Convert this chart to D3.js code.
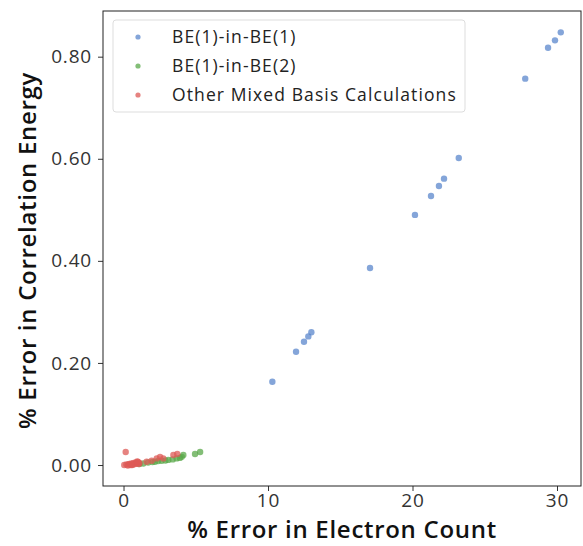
<!DOCTYPE html>
<html><head><meta charset="utf-8">
<script src="https://cdn.jsdelivr.net/npm/d3@7"></script>
<style>
body{margin:0;background:#fff;}
text{font-family:"Open Sans","Noto Sans",sans-serif;}
</style></head>
<body><svg id="c" width="583" height="546"></svg>
<script>
const seriesNames = ["BE(1)-in-BE(1)", "BE(1)-in-BE(2)", "Other Mixed Basis Calculations"];
const colors = ["#5b87cc", "#5aa84a", "#dd5a55"];
const blueX = [10.3, 11.94, 12.49, 12.79, 13.0, 17.06, 20.17, 21.28, 21.83, 22.18, 23.2, 27.8, 29.38, 29.86, 30.26];
const blueY = [0.163, 0.222, 0.2416, 0.252, 0.26, 0.386, 0.49, 0.527, 0.5466, 0.561, 0.6015, 0.757, 0.8176, 0.832, 0.8477];
const greenX = [1.1, 1.37, 1.7, 2.0, 2.18, 2.4, 2.64, 2.9, 3.1, 3.4, 3.68, 3.9, 4.03, 4.14, 4.95, 5.3];
const greenY = [0.002, 0.003, 0.005, 0.006, 0.0065, 0.008, 0.0085, 0.009, 0.01, 0.011, 0.013, 0.014, 0.016, 0.0196, 0.0215, 0.0255];
const redX = [0.05, 0.15, 0.2, 0.3, 0.4, 0.5, 0.55, 0.65, 0.7, 0.8, 0.85, 0.9, 1.0, 1.05, 1.1, 0.35, 0.6, 0.95, 1.6, 1.95, 2.3, 2.53, 2.75, 3.45, 3.72];
const redY = [0.0, 0.0255, 0.001, -0.001, 0.002, 0.0, 0.003, 0.001, 0.004, 0.002, 0.005, 0.003, 0.006, 0.002, 0.004, 0.001, 0.0, 0.007, 0.0065, 0.0085, 0.013, 0.016, 0.013, 0.0196, 0.0215];
const xTicks = [0, 10, 20, 30];
const yTicks = [0, 0.2, 0.4, 0.6, 0.8];

const svg = d3.select("#c");
const L = 103, R = 581, T = 11, B = 486;
const x = d3.scaleLinear().domain([-1.42, 31.66]).range([L, R]);
const y = d3.scaleLinear().domain([-0.0411, 0.8895]).range([B, T]);

const gx = svg.append("g").attr("transform", `translate(0,${B})`)
  .call(d3.axisBottom(x).tickValues(xTicks).tickSize(5).tickPadding(3).tickFormat(d3.format("d")));
const gy = svg.append("g").attr("transform", `translate(${L},0)`)
  .call(d3.axisLeft(y).tickValues(yTicks).tickSize(5).tickPadding(6).tickFormat(d3.format(".2f")));
[gx, gy].forEach(g => {
  g.select(".domain").remove();
  g.selectAll(".tick line").attr("stroke", "#333").attr("stroke-width", 1);
  g.selectAll(".tick text").attr("fill", "#333").style("font-size", "19px").style("letter-spacing", "0.8px");
});
svg.append("rect").attr("x", L).attr("y", T).attr("width", R - L).attr("height", B - T)
  .attr("fill", "none").attr("stroke", "#222").attr("stroke-width", 1);

const sets = [[blueX, blueY], [greenX, greenY], [redX, redY]];
sets.forEach(([xs, ys], i) => {
  svg.append("g").selectAll("circle").data(xs.map((v, j) => [v, ys[j]])).join("circle")
    .attr("cx", d => x(d[0])).attr("cy", d => y(d[1])).attr("r", 3.2)
    .attr("fill", colors[i]).attr("fill-opacity", 0.75);
});

// legend
const lg = svg.append("g");
lg.append("rect").attr("x", 113).attr("y", 20).attr("width", 352).attr("height", 92).attr("rx", 3)
  .attr("fill", "#fff").attr("fill-opacity", 0.8).attr("stroke", "#ddd");
seriesNames.forEach((n, i) => {
  const yy = 37 + i * 29;
  lg.append("circle").attr("cx", 138).attr("cy", yy).attr("r", 2.6).attr("fill", colors[i]).attr("fill-opacity", 0.75);
  lg.append("text").attr("x", 172).attr("y", yy).attr("dy", "0.35em").attr("fill", "#222")
    .style("font-size", "17.5px").style("letter-spacing", "1.1px").text(n);
});

svg.append("text").attr("x", (L + R) / 2).attr("y", 538).attr("text-anchor", "middle")
  .attr("fill", "#111").style("font-size", "24px").style("font-weight", 600).style("letter-spacing", "0.7px")
  .text("% Error in Electron Count");
svg.append("text").attr("transform", `translate(36,${(T + B) / 2 + 2}) rotate(-90)`).attr("text-anchor", "middle")
  .attr("fill", "#111").style("font-size", "24px").style("font-weight", 600).style("letter-spacing", "0.7px")
  .text("% Error in Correlation Energy");
</script></body></html>
